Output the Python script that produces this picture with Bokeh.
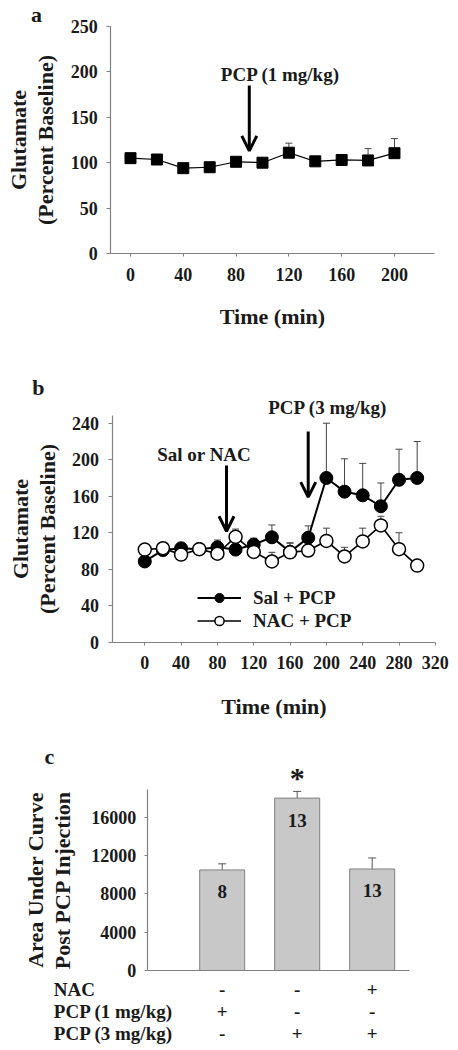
from bokeh.plotting import figure
from bokeh.models import (Range1d, FixedTicker, Arrow, OpenHead, Whisker, TeeHead,
                          Label, Legend, LegendItem, ColumnDataSource)
from bokeh.layouts import column
from bokeh.core.properties import value
from bokeh.embed import file_html
from bokeh.resources import INLINE

FONT = "Liberation Serif"

# ---------------- data ----------------
# panel a
time_a = [0, 20, 40, 60, 80, 100, 120, 140, 160, 180, 200]
glu_a = [105, 103.5, 94, 95, 101, 100, 111, 101.5, 103, 102.5, 110.5]
err_a = [4, 0, 0, 0, 0, 0, 10.5, 0, 3, 13, 16]
yticks_a = [0, 50, 100, 150, 200, 250]
xticks_a = [0, 40, 80, 120, 160, 200]

# panel b
time_b = [0, 20, 40, 60, 80, 100, 120, 140, 160, 180, 200, 220, 240, 260, 280, 300]
sal_pcp = [88.5, 101, 103, 102, 104, 101.5, 107, 115, 99, 114.5, 180, 165, 161, 149, 178, 180]
sal_err = [0, 0, 0, 0, 8, 0, 7, 13.5, 10, 13, 60, 36, 35, 25.5, 33.5, 40]
nac_pcp = [101.5, 103, 96, 102, 97, 115.5, 99, 88.5, 98.5, 100.5, 111, 94, 110.5, 128, 102, 84]
nac_err = [0, 0, 0, 0, 0, 8.5, 0, 10, 10, 0, 14, 10, 14.5, 10, 18, 0]
yticks_b = [0, 40, 80, 120, 160, 200, 240]
xticks_b = [0, 40, 80, 120, 160, 200, 240, 280, 320]

# panel c
auc = [10500, 18000, 10600]
auc_err = [640, 700, 1150]
n_labels = ["8", "13", "13"]
row_titles = ["NAC", "PCP (1 mg/kg)", "PCP (3 mg/kg)"]
nac_row = ["-", "-", "+"]
pcp1_row = ["+", "-", "-"]
pcp3_row = ["-", "+", "+"]
yticks_c = [0, 4000, 8000, 12000, 16000]

AXIS_GRAY = "#808080"
TXT = "#1a1a1a"


def make_fig(w, h, xr, yr):
    p = figure(width=w, height=h, x_range=Range1d(*xr), y_range=Range1d(*yr),
               output_backend="svg", toolbar_location=None)
    p.min_border = 0
    p.title.visible = False
    p.outline_line_color = None
    p.grid.visible = False
    for ax in p.axis:
        ax.axis_line_color = AXIS_GRAY
        ax.axis_line_width = 1.2
        ax.major_tick_line_color = AXIS_GRAY
        ax.minor_tick_line_color = None
        ax.major_tick_in = 0
        ax.major_tick_out = 4
        ax.major_label_text_font = FONT
        ax.major_label_text_font_style = "bold"
        ax.major_label_text_font_size = "18px"
        ax.major_label_text_color = TXT
        ax.axis_label_text_font = FONT
        ax.axis_label_text_font_style = "bold"
        ax.axis_label_text_font_size = "22px"
        ax.axis_label_text_color = TXT
        ax.axis_label_text_line_height = 1.05
    return p


def txt(p, x, y, s, size="19px", align="center"):
    p.add_layout(Label(x=x, y=y, text=s, text_font=FONT, text_font_style="bold",
                       text_font_size=size, text_align=align, text_baseline="middle",
                       text_color=TXT))


def whiskers(p, src, lower, size=7, color="#444444"):
    p.add_layout(Whisker(base="x", lower=lower, upper="up", source=src, line_color=color,
                         line_width=1, upper_head=TeeHead(size=size, line_color=color, line_width=1),
                         lower_head=None, level="underlay"))


def arrow(p, x, y0, y1):
    p.add_layout(Arrow(end=OpenHead(size=15, line_width=3, line_color="black"),
                       x_start=x, y_start=y0, x_end=x, y_end=y1, line_width=3, line_color="black"))


W = 456

# ---------------- panel a ----------------
pa = make_fig(W, 350, (-98.5, 247.0), (-106.8, 278.6))
pa.xaxis.fixed_location = 0
pa.xaxis.bounds = (-15, 230)
pa.yaxis.fixed_location = -15
pa.yaxis.bounds = (0, 250)
pa.xaxis.ticker = FixedTicker(ticks=xticks_a)
pa.yaxis.ticker = FixedTicker(ticks=yticks_a)
pa.xaxis.major_tick_out = 3
pa.xaxis.major_label_standoff = 11
pa.xaxis.axis_label = "Time (min)"
pa.xaxis.axis_label_standoff = 20
pa.yaxis.major_label_standoff = 9
pa.yaxis.axis_label = "Glutamate\n(Percent Baseline)"
pa.yaxis.axis_label_standoff = 10

src_a = ColumnDataSource(dict(x=time_a, y=glu_a, up=[g + e for g, e in zip(glu_a, err_a)]))
whiskers(pa, src_a, "y")
pa.line("x", "y", source=src_a, line_color="black", line_width=1.2)
pa.scatter("x", "y", source=src_a, marker="square", size=11, fill_color="black", line_color="black")
arrow(pa, 90, 185, 113)
txt(pa, 113.6, 197, "PCP (1 mg/kg)")
txt(pa, -71.2, 263.2, "a", size="22px")

# ---------------- panel b ----------------
pb = make_fig(W, 390, (-158.9, 343.3), (-107.7, 319.7))
pb.xaxis.fixed_location = 0
pb.xaxis.bounds = (-36, 320)
pb.yaxis.fixed_location = -36
pb.yaxis.bounds = (0, 248)
pb.xaxis.ticker = FixedTicker(ticks=xticks_b)
pb.yaxis.ticker = FixedTicker(ticks=yticks_b)
pb.xaxis.major_tick_out = 3
pb.xaxis.major_label_standoff = 11
pb.xaxis.axis_label = "Time (min)"
pb.xaxis.axis_label_standoff = 21
pb.yaxis.major_label_standoff = 9
pb.yaxis.axis_label = "Glutamate\n(Percent Baseline)"
pb.yaxis.axis_label_standoff = 10

src_s = ColumnDataSource(dict(x=time_b, y=sal_pcp, up=[g + e for g, e in zip(sal_pcp, sal_err)]))
src_n = ColumnDataSource(dict(x=time_b, y=nac_pcp, up=[g + e for g, e in zip(nac_pcp, nac_err)]))
whiskers(pb, src_s, "y")
whiskers(pb, src_n, "y")
l_s = pb.line("x", "y", source=src_s, line_color="black", line_width=2)
l_n = pb.line("x", "y", source=src_n, line_color="black", line_width=1.6)
m_s = pb.scatter("x", "y", source=src_s, marker="circle", size=13, fill_color="black", line_color="black")
m_n = pb.scatter("x", "y", source=src_n, marker="circle", size=13, fill_color="white",
                 line_color="black", line_width=1.5)

leg = Legend(items=[LegendItem(label="Sal + PCP", renderers=[l_s, m_s]),
                    LegendItem(label="NAC + PCP", renderers=[l_n, m_n])],
             location=(197, 108), padding=0, spacing=0, margin=0, glyph_width=44, glyph_height=23,
             label_height=23, label_standoff=12, border_line_color=None, background_fill_alpha=0,
             label_text_font=FONT, label_text_font_style="bold", label_text_font_size="19px",
             label_text_color=TXT)
pb.add_layout(leg)

arrow(pb, 90, 193.6, 121.6)
arrow(pb, 180, 231, 159)
txt(pb, 65.4, 205.7, "Sal or NAC")
txt(pb, 201.6, 257, "PCP (3 mg/kg)")
txt(pb, -117.1, 279.1, "b", size="22px")

# ---------------- panel c ----------------
xpos = list(range(1, len(auc) + 1))
pc = make_fig(W, 308, (-1.956, 4.124), (-8144, 24016))
pc.xaxis.fixed_location = 0
pc.xaxis.bounds = (0, 3.5)
pc.xaxis.ticker = FixedTicker(ticks=[])
pc.yaxis.fixed_location = 0
pc.yaxis.bounds = (0, 18900)
pc.yaxis.ticker = FixedTicker(ticks=yticks_c)
pc.yaxis.major_tick_out = 3
pc.yaxis.major_label_standoff = 8
pc.yaxis.axis_label = "Area Under Curve\nPost PCP Injection"
pc.yaxis.axis_label_standoff = 14

src_c = ColumnDataSource(dict(x=xpos, top=auc, up=[a + e for a, e in zip(auc, auc_err)], n=n_labels))
whiskers(pc, src_c, "top", size=8, color="#555555")
pc.vbar(x="x", top="top", width=0.6, source=src_c, fill_color="#c8c8c8", line_color="#7f7f7f",
        line_width=1)
pc.text(x="x", y="top", text="n", source=src_c, y_offset=22, text_font=value(FONT),
        text_font_style="bold", text_font_size="19px", text_align="center", text_baseline="middle",
        text_color=TXT)
txt(pc, 2, 20184, "*", size="30px")
txt(pc, -1.303, 22377, "c", size="22px")

row_y = [-2015, -4250, -6547]
for title, yy, row in zip(row_titles, row_y, [nac_row, pcp1_row, pcp3_row]):
    txt(pc, -1.245, yy, title, align="left")
    for xx, sym in zip(xpos, row):
        txt(pc, xx, yy, sym)

layout = column(pa, pb, pc, spacing=0)
open("out.html", "w").write(file_html(layout, INLINE))
